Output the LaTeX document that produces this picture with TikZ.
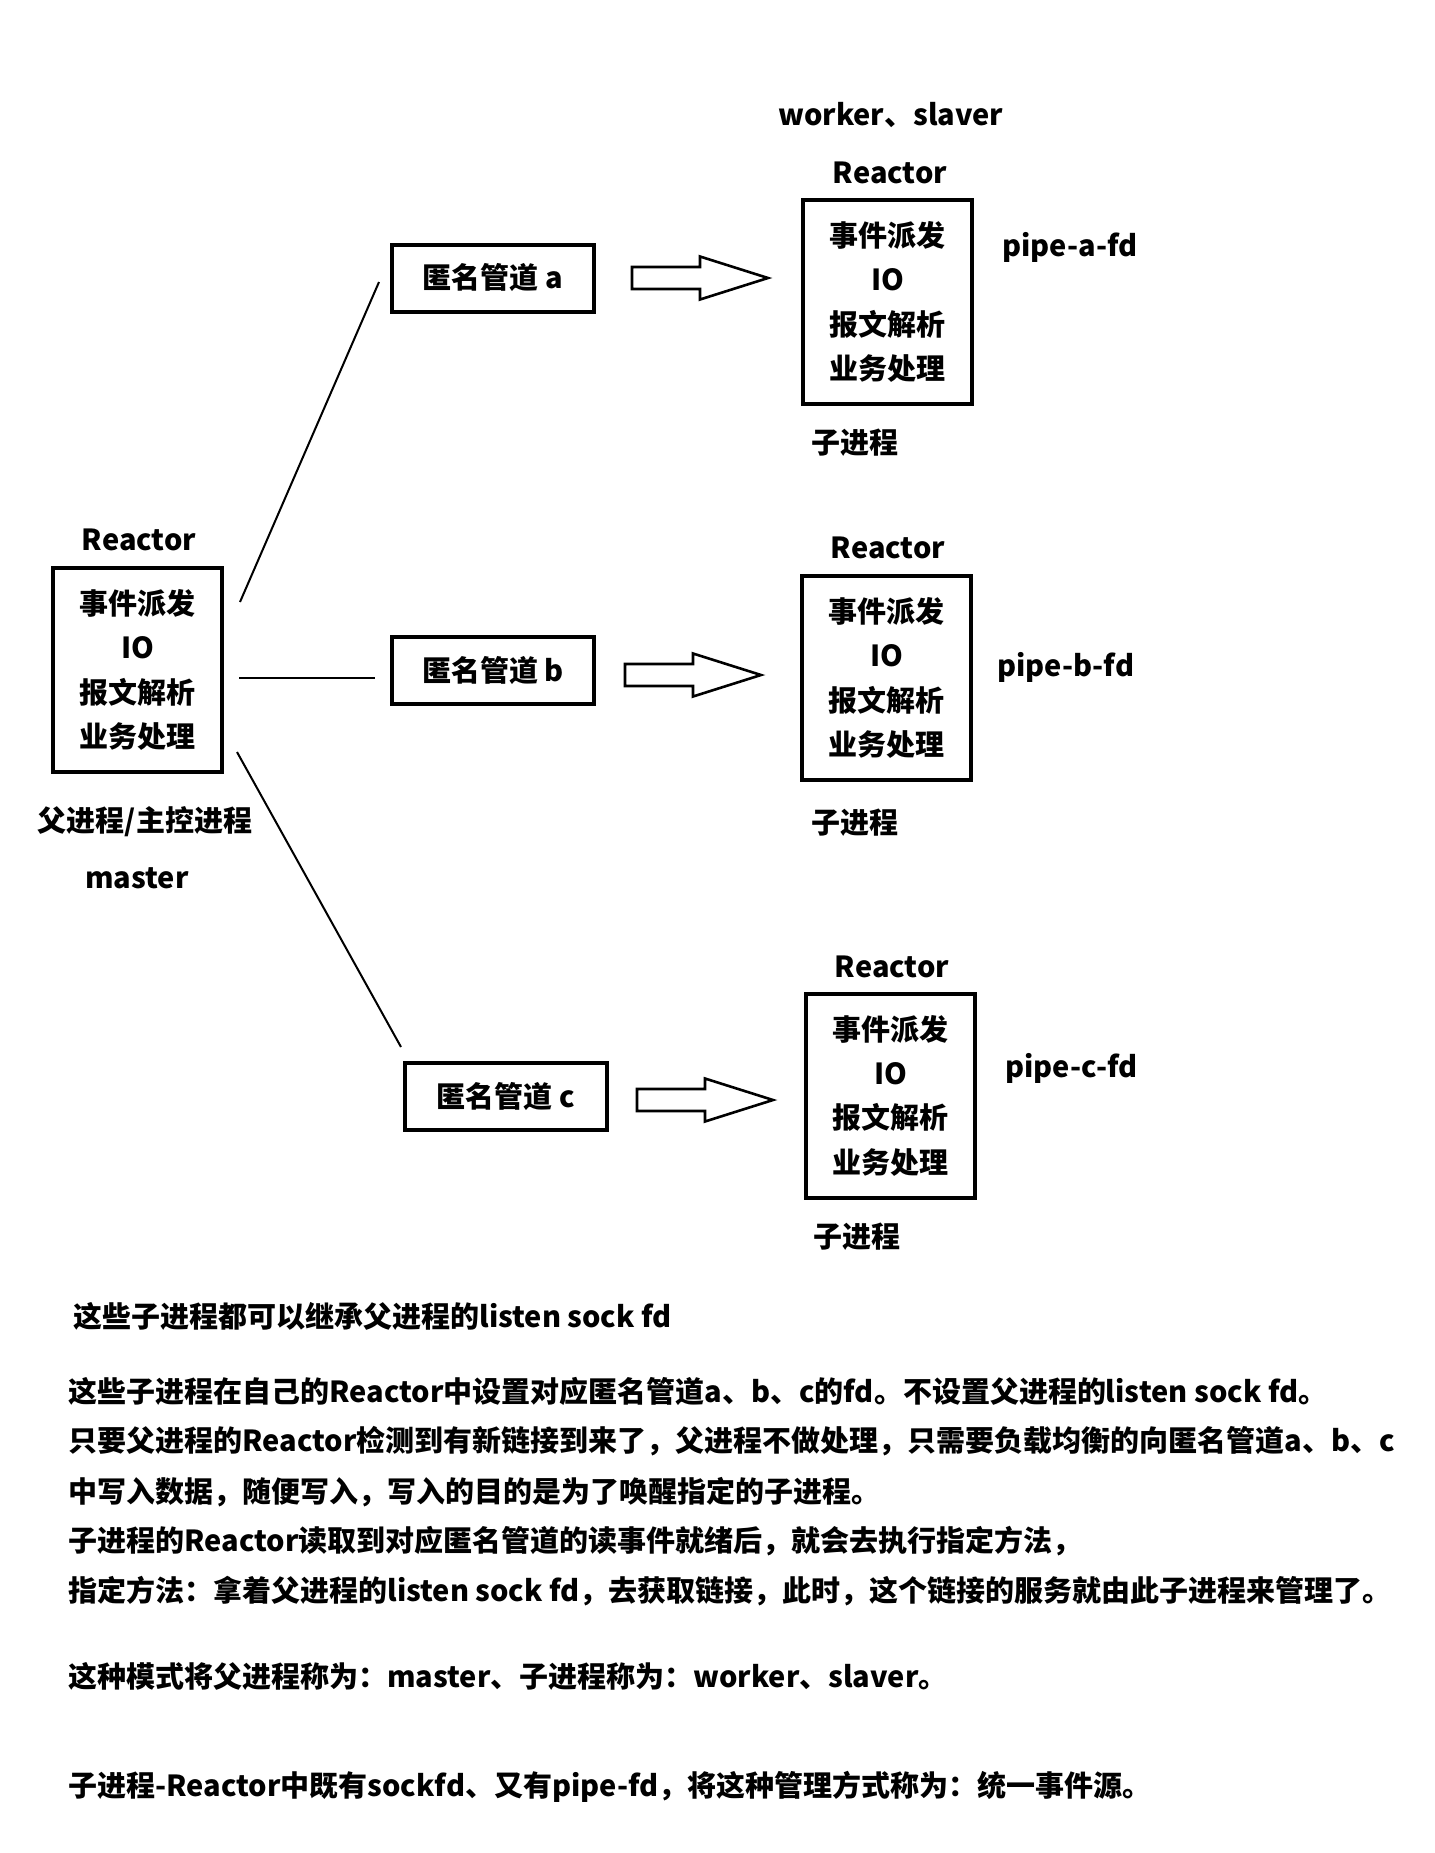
\documentclass[tikz,border=0pt]{standalone}
\usepackage{fontspec}
\setmainfont{Noto Sans CJK SC}
\usepackage{tikz}

\tikzset{
	reactorbox/.style={draw, line width=2pt, minimum width=84.5pt, minimum height=102pt, align=center},
	pipebox/.style={draw, line width=2pt, minimum width=101pt, minimum height=33.5pt},
	link/.style={line width=1pt},
	hollow/.style={line width=1.3pt, line join=miter},
}
\newcommand{\hollowarrow}[1]{\draw[hollow] (#1) ++(0,-11) -- ++(68,0) -- ++(0,-10.5) -- ++(68,21.5) -- ++(-68,21.5) -- ++(0,-10.5) -- ++(-68,0) -- cycle;}
\newcommand{\reactortext}{事件派发\\IO\\报文解析\\业务处理}

\begin{document}
\begin{tikzpicture}[x=0.5pt, y=-0.5pt, inner sep=0pt, font=\fontsize{14.5pt}{22.15pt}\selectfont\bfseries]
	\fill[white] (0,0) rectangle (1435,1853);
	\useasboundingbox (0,0) rectangle (1435,1853);

	\node (master) [reactorbox] at (137.5,670) {\reactortext};
	\node (mr) at (139,540) {Reactor};
	\node (mname) at (145,822) {父进程/主控进程};
	\node (mrole) at (137,878) {master};

	\node (wrole) at (891,115) {worker、slaver};

	\node (wa) [reactorbox] at (887.5,302) {\reactortext};
	\node (wra) at (890,173) {Reactor};
	\node (fda) [right] at (1002,247) {pipe-a-fd};
	\node (ca) at (855,443) {子进程};

	\node (wb) [reactorbox] at (886.5,678) {\reactortext};
	\node (wrb) at (888,548) {Reactor};
	\node (fdb) [right] at (997,667) {pipe-b-fd};
	\node (cb) at (855,823) {子进程};

	\node (wc) [reactorbox] at (890.5,1095.5) {\reactortext};
	\node (wrc) at (892,967) {Reactor};
	\node (fdc) [right] at (1005,1068) {pipe-c-fd};
	\node (cc) at (857,1237) {子进程};

	\node (pa) [pipebox] at (493,278) {匿名管道 a};
	\node (pb) [pipebox] at (493,670) {匿名管道 b};
	\node (pc) [pipebox] at (506,1096.5) {匿名管道 c};

	\coordinate (la0) at (240,602);
	\coordinate (la1) at (379,282);
	\coordinate (lb0) at (239,678);
	\coordinate (lb1) at (375,678);
	\coordinate (lc0) at (237,752);
	\coordinate (lc1) at (401,1047);
	\draw[link] (la0) -- (la1);
	\draw[link] (lb0) -- (lb1);
	\draw[link] (lc0) -- (lc1);

	\coordinate (aa) at (632,278);
	\coordinate (ab) at (625,675);
	\coordinate (ac) at (637,1100);
	\hollowarrow{aa}
	\hollowarrow{ab}
	\hollowarrow{ac}

	\node (t1) [right] at (73,1316) {这些子进程都可以继承父进程的listen sock fd};
	\node (t2) [right] at (68,1391) {这些子进程在自己的Reactor中设置对应匿名管道a、b、c的fd。不设置父进程的listen sock fd。};
	\node (t3) [right] at (68,1441) {只要父进程的Reactor检测到有新链接到来了，父进程不做处理，只需要负载均衡的向匿名管道a、b、c};
	\node (t4) [right] at (68,1492) {中写入数据，随便写入，写入的目的是为了唤醒指定的子进程。};
	\node (t5) [right] at (68,1541) {子进程的Reactor读取到对应匿名管道的读事件就绪后，就会去执行指定方法，};
	\node (t6) [right] at (68,1591) {指定方法：拿着父进程的listen sock fd，去获取链接，此时，这个链接的服务就由此子进程来管理了。};
	\node (t7) [right] at (68,1676) {这种模式将父进程称为：master、子进程称为：worker、slaver。};
	\node (t8) [right] at (68,1787) {子进程-Reactor中既有sockfd、又有pipe-fd，将这种管理方式称为：统一事件源。};
\end{tikzpicture}
\end{document}
